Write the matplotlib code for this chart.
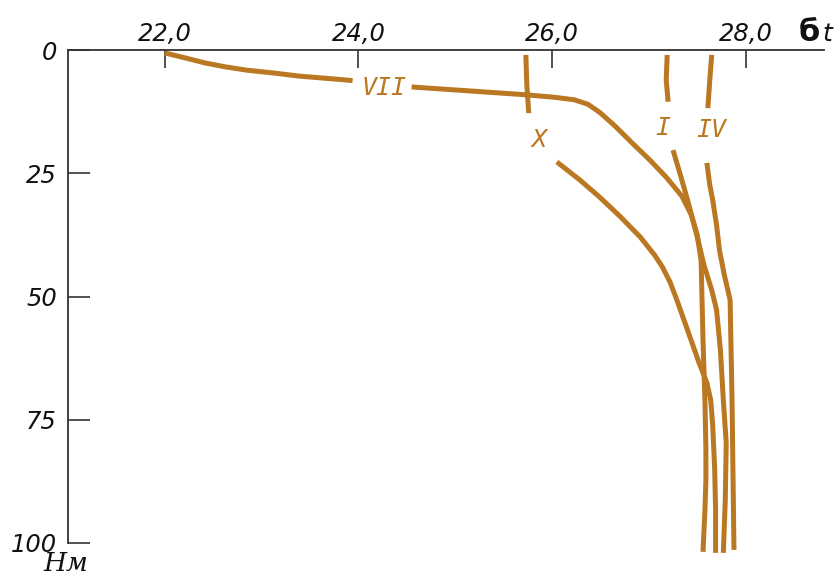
import matplotlib
matplotlib.use("Agg")
import matplotlib.pyplot as plt
import numpy as np

nan = np.nan
# Density sigma_t profiles vs depth (m) for months VII, X, I, IV (nan = gap for curve label)
vii_sigma = [22.00, 22.21, 22.41, 22.62, 22.85, 23.14, 23.39, 23.70, 23.94, nan,
             24.55, 25.15, 25.74, 26.03, 26.23, 26.37, 26.49, 26.65, 26.83, 27.01, 27.18,
             27.34, 27.44, 27.50, 27.54, 27.55, 27.56, 27.58, 27.59, 27.59, 27.58, 27.56]
vii_depth = [0.6, 1.6, 2.6, 3.4, 4.1, 4.7, 5.3, 5.8, 6.2, nan,
             7.5, 8.3, 9.1, 9.6, 10.1, 11.0, 12.6, 15.4, 18.9, 22.3, 25.8,
             29.6, 33.5, 37.5, 42.6, 50.7, 58.8, 71.0, 81.1, 87.2, 93.3, 101.8]

x_sigma = [25.73, 25.74, 25.76, nan, 26.05, 26.29, 26.49, 26.70, 26.91, 27.06, 27.14,
           27.22, 27.29, 27.40, 27.52, 27.60, 27.64, 27.66, 27.68, 27.69, 27.69]
x_depth = [1.0, 7.1, 12.8, nan, 22.7, 26.4, 29.8, 33.7, 37.9, 41.6, 44.0,
           47.1, 50.7, 56.8, 63.5, 67.5, 71.0, 76.1, 84.6, 93.3, 102.0]

i_sigma = [27.19, 27.18, 27.20, nan, 27.25, 27.32, 27.40, 27.49, 27.57, 27.65, 27.70,
           27.74, 27.77, 27.80, 27.79, 27.77]
i_depth = [1.0, 6.1, 10.5, nan, 20.3, 24.9, 30.4, 37.1, 43.6, 48.7, 52.7,
           60.9, 71.0, 79.7, 91.3, 102.0]

iv_sigma = [27.65, 27.63, 27.61, nan, 27.60, 27.63, 27.66, 27.70, 27.73, 27.78, 27.84,
            27.85, 27.86, 27.87, 27.88]
iv_depth = [1.0, 6.1, 11.8, nan, 22.9, 27.4, 30.4, 35.5, 40.6, 45.6, 50.7,
            60.9, 71.0, 86.2, 101.4]

labels = ["VII", "X", "I", "IV"]
label_x = [24.27, 25.87, 27.14, 27.65]
label_y = [7.7, 18.3, 15.8, 16.2]

x_ticks = [22.0, 24.0, 26.0, 28.0]
x_tick_labels = ["22,0", "24,0", "26,0", "28,0"]
y_ticks = [0, 25, 50, 75, 100]
y_tick_labels = ["0", "25", "50", "75", "100"]

color = "#BA7822"
W, H = 837, 578
fig = plt.figure(figsize=(W / 100, H / 100), dpi=100)
ax = fig.add_axes([68 / W, 1 - 543 / H, (824 - 68) / W, (543 - 50) / H])

ax.set_xlim(21.0, 28.81)
ax.set_ylim(100, 0)

for s, d in [(vii_sigma, vii_depth), (x_sigma, x_depth), (i_sigma, i_depth), (iv_sigma, iv_depth)]:
    ax.plot(s, d, color=color, lw=3.6, solid_capstyle="butt", solid_joinstyle="round",
            clip_on=False, zorder=2)

for lab, lx, ly in zip(labels, label_x, label_y):
    ax.text(lx, ly, lab, color=color, fontsize=18, style="italic", family="DejaVu Sans Mono",
            ha="center", va="center", zorder=4)

for sp in ["bottom", "right"]:
    ax.spines[sp].set_visible(False)
for sp in ["left", "top"]:
    ax.spines[sp].set_color("#333333")
    ax.spines[sp].set_linewidth(1.3)

ax.xaxis.set_ticks_position("top")
ax.set_xticks(x_ticks)
ax.set_xticklabels(x_tick_labels)
ax.set_yticks(y_ticks)
ax.set_yticklabels(y_tick_labels)
ax.tick_params(axis="x", direction="in", length=13, width=1.2, color="#333333", pad=3, labelsize=17.5)
ax.tick_params(axis="y", direction="in", length=16, width=1.2, color="#333333", pad=8, labelsize=17.5)
for t in ax.get_xticklabels() + ax.get_yticklabels():
    t.set_fontstyle("italic")
    t.set_color("#111111")

fig.text(799 / W, 1 - 41 / H, "б", fontsize=22, fontweight="bold", color="#111111", ha="left", va="baseline")
fig.text(822 / W, 1 - 41 / H, "t", fontsize=18, style="italic", color="#111111", ha="left", va="baseline")
fig.text(43 / W, 1 - 571 / H, "Нм", fontsize=19, style="italic", family="DejaVu Serif", color="#111111",
         ha="left", va="baseline")

fig.savefig("out.png", dpi=100)
